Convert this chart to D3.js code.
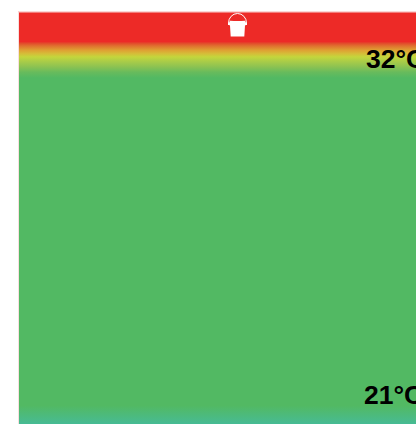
<!DOCTYPE html>
<html><head><meta charset="utf-8">
<script src="https://cdn.jsdelivr.net/npm/d3@7"></script>
<style>html,body{margin:0;padding:0;background:#fff;overflow:hidden}svg{display:block}</style>
</head><body><svg id="c" width="416" height="424"></svg>
<script>
const stopTemps  = [33.53, 32.57, 32.52, 32.43, 32.29, 32.18, 32.07, 31.92, 31.74, 31.57, 31.38, 20.65, 20.05];
const stopColors = ["#ed2a27","#ed2a27","#e3482b","#e0702f","#dfa033","#d6bc38","#c4d63c","#a9cc48","#8bc252","#68bb5c","#52b963","#52b963","#47bb94"];
const labelTemps = [32, 21];
const labelTexts = ["32°C", "21°C"];
const labelX = [366, 364];

const y = d3.scaleLinear().domain([32, 21]).range([59, 395]);
const svg = d3.select("#c");
const bandTop = y(33.53), bandBottom = y(20.05);

const grad = svg.append("defs").append("linearGradient")
  .attr("id","g").attr("gradientUnits","userSpaceOnUse")
  .attr("x1",0).attr("x2",0).attr("y1",bandTop).attr("y2",bandBottom);
grad.selectAll("stop").data(stopTemps).join("stop")
  .attr("offset",d=>(y(d)-bandTop)/(bandBottom-bandTop))
  .attr("stop-color",(d,i)=>stopColors[i]);

svg.append("rect").attr("x",19).attr("y",bandTop).attr("width",397).attr("height",bandBottom-bandTop).attr("fill","url(#g)");
svg.append("rect").attr("x",18).attr("y",bandTop-1).attr("width",1).attr("height",bandBottom-bandTop+1).attr("fill","#f3c9c8").attr("opacity",.6);
svg.append("rect").attr("x",18).attr("y",bandTop-1).attr("width",398).attr("height",1).attr("fill","#f9c9c8");

const icon = svg.append("g").attr("transform","translate(237.5,24)");
icon.append("path").attr("d","M-9,1 L-9,-1 A9,9.5 0 0 1 9,-1 L9,1").attr("fill","none").attr("stroke","#fff").attr("stroke-width",1);
icon.append("path").attr("d","M-7.5,-3.3 Q0,-2.6 7.5,-3.3 L9,0 L8.5,1 L7.5,1.5 L6.8,12.5 L-6.8,12.5 L-7.5,1.5 L-8.5,1 L-9,0 Z").attr("fill","#fff");

svg.selectAll("text.l").data(labelTemps).join("text")
  .attr("class","l").attr("x",(d,i)=>labelX[i]).attr("y",d=>y(d)+9)
  .attr("font-family","Liberation Sans").attr("font-weight","bold").attr("font-size",26.5).attr("fill","#000")
  .text((d,i)=>labelTexts[i]);
</script></body></html>
